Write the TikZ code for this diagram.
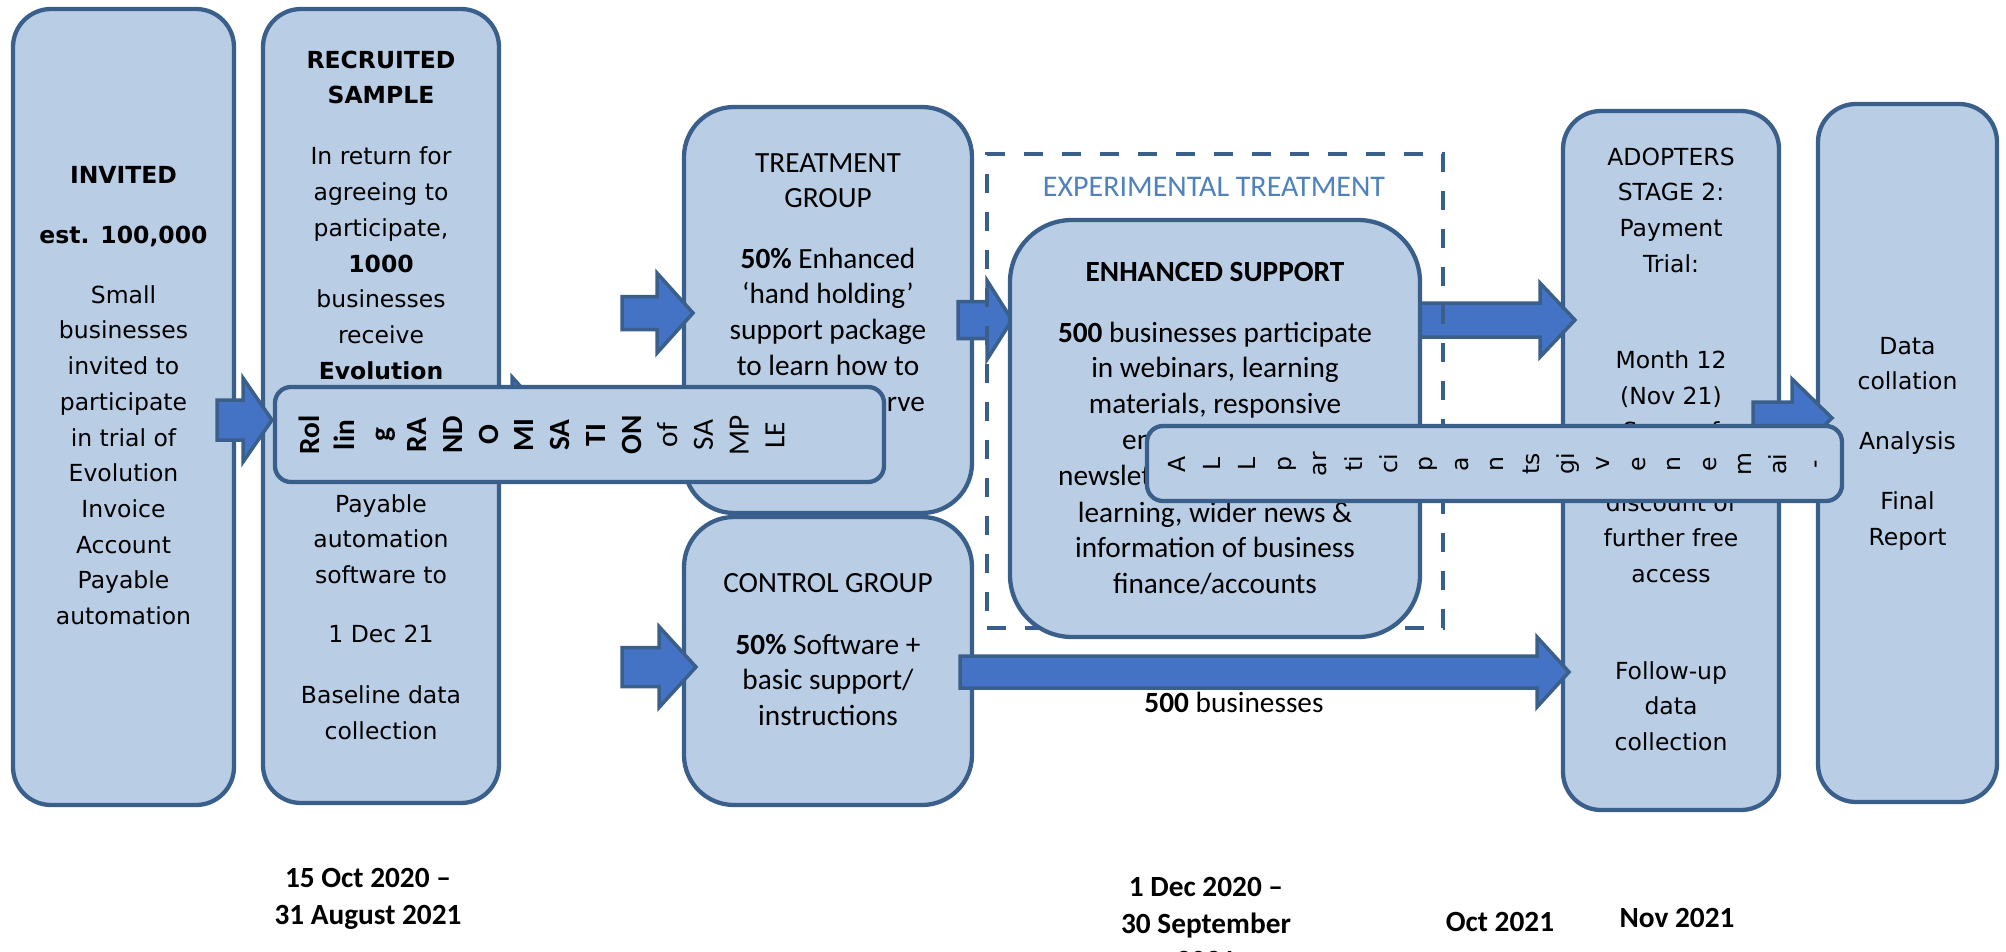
\documentclass[tikz,border=0pt]{standalone}
\usepackage{fontspec}
\newfontfamily\vfont{DejaVu Sans}
\newfontfamily\cfont{Carlito}
\definecolor{boxfill}{HTML}{B9CDE5}
\definecolor{boxline}{HTML}{3A5F8B}
\definecolor{arrowfill}{HTML}{4472C4}
\definecolor{exptext}{HTML}{4F81BD}
\newcommand{\mystrut}{\rule{0pt}{1em}}
\newcommand{\barrow}[6]{%
  \draw[blockarrow] ({#1},{#4-#5}) -- ({#2},{#4-#5}) -- ({#2},{#4-#6}) -- ({#3},{#4}) -- ({#2},{#4+#6}) -- ({#2},{#4+#5}) -- ({#1},{#4+#5}) -- cycle;}
\tikzset{
  box/.style={draw=boxline, fill=boxfill, line width=4.3pt, inner sep=0pt},
  vtext/.style={font=\vfont\fontsize{23.5}{35.7}\selectfont, align=center, inner sep=0pt, anchor=north},
  ctext/.style={font=\cfont\fontsize{29.3}{35.7}\selectfont, align=center, inner sep=0pt, anchor=north},
  frag/.style={font=\cfont\fontsize{29.3}{35.7}\selectfont, inner sep=0pt},
  blockarrow/.style={draw=boxline, fill=arrowfill, line width=3.5pt, line join=miter},
  rvt/.style={font=\vfont\fontsize{23.5}{28}\selectfont, rotate=90, anchor=base, inner sep=0pt},
  rct/.style={font=\cfont\fontsize{29.3}{35.7}\selectfont, rotate=90, anchor=base, inner sep=0pt},
  datetext/.style={font=\cfont\bfseries\fontsize{29.3}{37}\selectfont, align=center, inner sep=0pt},
}
\begin{document}
\begin{tikzpicture}[x=1pt,y=-1pt]
\useasboundingbox (0,0) rectangle (2006,952);
% main boxes
\node[box, rounded corners=38pt, minimum width=221pt, minimum height=796pt] (inv) at (123.5,407) {};
\node[box, rounded corners=38pt, minimum width=236pt, minimum height=794pt] (rec) at (381,406) {};
\node[box, rounded corners=50pt, minimum width=288pt, minimum height=406pt] (trt) at (828,310) {};
\node[box, rounded corners=50pt, minimum width=288pt, minimum height=288pt] (ctl) at (828,661) {};
\node[box, rounded corners=38pt, minimum width=216pt, minimum height=699pt] (adp) at (1671,460.5) {};
\node[box, rounded corners=38pt, minimum width=179pt, minimum height=698pt] (fin) at (1907.5,453) {};
% texts in boxes
\node[vtext] (invt) at (123.5,159.5) {\mystrut\textbf{INVITED}\\[24.3pt]\textbf{est. 100,000}\\[24.3pt]Small\\businesses\\invited to\\participate\\in trial of\\Evolution\\Invoice\\Account\\Payable\\automation};
\node[vtext] (rect) at (381,44.5) {\mystrut\textbf{RECRUITED}\\\textbf{SAMPLE}\\[25.3pt]In return for\\agreeing to\\participate,\\\textbf{1000}\\businesses\\receive\\\textbf{Evolution}};
\node[vtext] (recb) at (381,488.5) {\mystrut Payable\\automation\\software to\\[23pt]1 Dec 21\\[25.3pt]Baseline data\\collection};
\node[ctext] (trtt) at (828,142.7) {\mystrut TREATMENT\\GROUP\\[24.6pt]\textbf{50\%} Enhanced\\‘hand holding’\\support package\\to learn how to};
\node[frag, anchor=base east] (trtf) at (925,411) {rve};
\node[ctext] (ctlt) at (828,562.7) {\mystrut CONTROL GROUP\\[26.3pt]\textbf{50\%} Software +\\basic support/\\instructions};
\node[vtext] (adpt) at (1671,141.5) {\mystrut ADOPTERS\\STAGE 2:\\Payment\\Trial:\\[60.3pt]Month 12\\(Nov 21)\\Some of};
\node[vtext] (adpb) at (1671,487.5) {\mystrut discount of\\further free\\access\\[60.9pt]Follow-up\\data\\collection};
\node[vtext] (fint) at (1907.5,330.5) {\mystrut Data\\collation\\[24.3pt]Analysis\\[24.3pt]Final\\Report};
% arrows under the dashed frame
\barrow{958}{987}{1012}{320}{18.5}{39.5}
\barrow{1420}{1540}{1575}{320}{17}{37}
% dashed frame
\node[draw=boxline, line width=4pt, dash pattern=on 19pt off 19pt, minimum width=456pt, minimum height=474pt, inner sep=0pt] (exp) at (1215,391) {};
\node[font=\cfont\fontsize{30}{36}\selectfont, text=exptext, anchor=base, inner sep=0pt] (expt) at (1214,197) {EXPERIMENTAL TREATMENT};
% enhanced support
\node[box, rounded corners=62pt, minimum width=410pt, minimum height=417pt] (enh) at (1215,428.5) {};
\node[ctext] (enht) at (1215,251.7) {\mystrut\textbf{ENHANCED SUPPORT}\\[25.3pt]\textbf{500} businesses participate\\in webinars, learning\\materials, responsive};
\node[frag, anchor=base west] (enhf1) at (1122,449) {en};
\node[frag, anchor=base west] (enhf2) at (1058,485) {newslet};
\node[ctext] (enhb) at (1215,492.7) {\mystrut learning, wider news \&\\information of business\\finance/accounts};
% other arrows
\barrow{217}{243}{272}{420}{20}{42}
\barrow{485}{512}{548}{417}{18}{40}
\barrow{622}{657}{693}{313}{16.5}{40}
\barrow{622}{659}{696}{667}{19.5}{40.5}
\barrow{960}{1537}{1569}{672}{16}{35}
\barrow{1753}{1792}{1832}{418}{16}{39}
% overlay: rolling randomisation
\node[box, rounded corners=16pt, minimum width=609pt, minimum height=95pt] (rnd) at (579.5,434.5) {};
\foreach \t [count=\i from 0] in {\textbf{Rol},\textbf{lin},\textbf{g},\textbf{RA},\textbf{ND},\textbf{O},\textbf{MI},\textbf{SA},\textbf{TI},\textbf{ON},of,SA,MP,LE}
  \node[rct] (r\i) at ({319+35.8*\i},435) {\t};
% overlay: all participants
\node[box, rounded corners=16pt, minimum width=695pt, minimum height=75pt] (all) at (1494.5,463.5) {};
\foreach \t [count=\i from 0] in {A,L,L,p,ar,ti,ci,p,a,n,ts,gi,v,e,n,e,m,ai,-}
  \node[rvt] (p\i) at ({1185+35.4*\i},464) {\t};
% labels
\node[frag, anchor=base] (biz) at (1234,712) {\textbf{500} businesses};
\node[datetext, anchor=north] (d1) at (368,857.7) {\mystrut 15 Oct 2020 –\\31 August 2021};
\node[datetext, anchor=north] (d2) at (1206,866.7) {\mystrut 1 Dec 2020 –\\30 September\\2021};
\node[datetext, anchor=base] (d3) at (1500,931) {Oct 2021};
\node[datetext, anchor=base] (d4) at (1677,927) {Nov 2021};
\end{tikzpicture}
\end{document}
